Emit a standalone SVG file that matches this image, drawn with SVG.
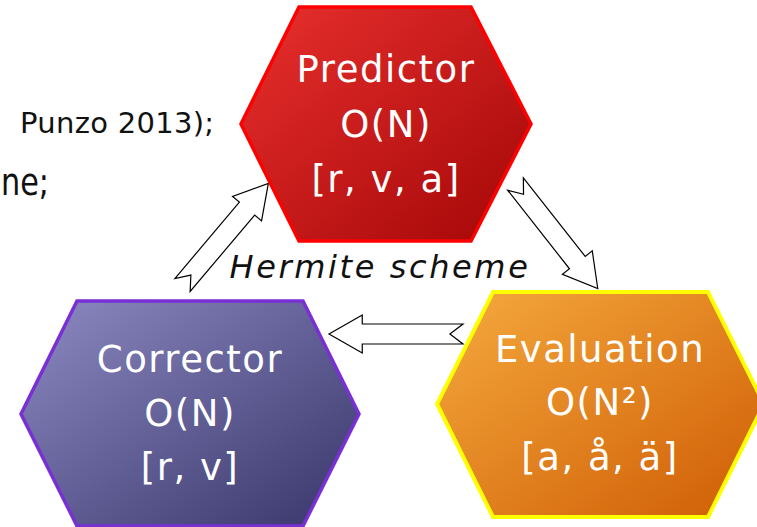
<svg xmlns="http://www.w3.org/2000/svg" width="757" height="527" viewBox="0 0 757 527">
  <defs>
    <linearGradient id="grad-red" x1="0" y1="0" x2="1" y2="1">
      <stop offset="0" stop-color="#e8302e"/>
      <stop offset="1" stop-color="#a40607"/>
    </linearGradient>
    <linearGradient id="grad-violet" x1="0" y1="0" x2="1" y2="1">
      <stop offset="0" stop-color="#8c8ac2"/>
      <stop offset="1" stop-color="#38356a"/>
    </linearGradient>
    <linearGradient id="grad-orange" x1="0" y1="0" x2="1" y2="1">
      <stop offset="0" stop-color="#f5aa3e"/>
      <stop offset="1" stop-color="#cf5c04"/>
    </linearGradient>
    <!-- hollow block arrow with notched tail, tail at origin, pointing along +x -->
    <polygon id="block-arrow" points="0,-10 100,-10 100,-19 133,0 100,19 100,10 0,10 13,0"/>
    <style>
      .node-text { font-family: "DejaVu Sans", "Liberation Sans", sans-serif; font-size: 37px; fill: #ffffff; text-anchor: middle; letter-spacing: 1.5px; }
      .note { font-family: "DejaVu Sans", "Liberation Sans", sans-serif; fill: #111111; }
      .arrow { fill: #ffffff; stroke: #000000; stroke-width: 1.2; stroke-linejoin: miter; }
    </style>
  </defs>

  <rect width="757" height="527" fill="#ffffff"/>

  <!-- surrounding text -->
  <text class="note" x="20" y="133" font-size="29" letter-spacing="0.3">Punzo 2013);</text>
  <text class="note" x="1" y="195" font-size="38" textLength="48" lengthAdjust="spacingAndGlyphs">ne;</text>
  <text class="note" x="380" y="278" font-size="32" font-style="italic" text-anchor="middle" letter-spacing="2.6">Hermite scheme</text>

  <!-- connectors -->
  <g id="connectors">
    <use href="#block-arrow" class="arrow" transform="translate(182.5,285) rotate(-49.8)"/>
    <use href="#block-arrow" class="arrow" transform="translate(515.5,184) rotate(51.8)"/>
    <use href="#block-arrow" class="arrow" transform="translate(463,334) rotate(180) scale(1.0075,1)"/>
  </g>

  <!-- Predictor node -->
  <g id="predictor">
    <polygon points="299,7 471,7 531,124 471,241 299,241 241,124" fill="url(#grad-red)" stroke="#ff0000" stroke-width="3.5"/>
    <text class="node-text" x="386" y="82">Predictor</text>
    <text class="node-text" x="386" y="137">O(N)</text>
    <text class="node-text" x="386" y="192" letter-spacing="4">[r, v, a]</text>
  </g>

  <!-- Corrector node -->
  <g id="corrector">
    <polygon points="77,301 303,301 359,414 303,526 77,526 21,414" fill="url(#grad-violet)" stroke="#7a2fd6" stroke-width="3.5"/>
    <text class="node-text" x="190" y="372">Corrector</text>
    <text class="node-text" x="190" y="426">O(N)</text>
    <text class="node-text" x="190" y="480" letter-spacing="4">[r, v]</text>
  </g>

  <!-- Evaluation node -->
  <g id="evaluation">
    <polygon points="493,292 708,292 764,404 708,517 493,517 437,404" fill="url(#grad-orange)" stroke="#ffff00" stroke-width="4"/>
    <text class="node-text" x="600" y="362">Evaluation</text>
    <text class="node-text" x="600" y="415">O(N²)</text>
    <text class="node-text" x="600" y="470" letter-spacing="4">[a, å, ä]</text>
  </g>
</svg>
